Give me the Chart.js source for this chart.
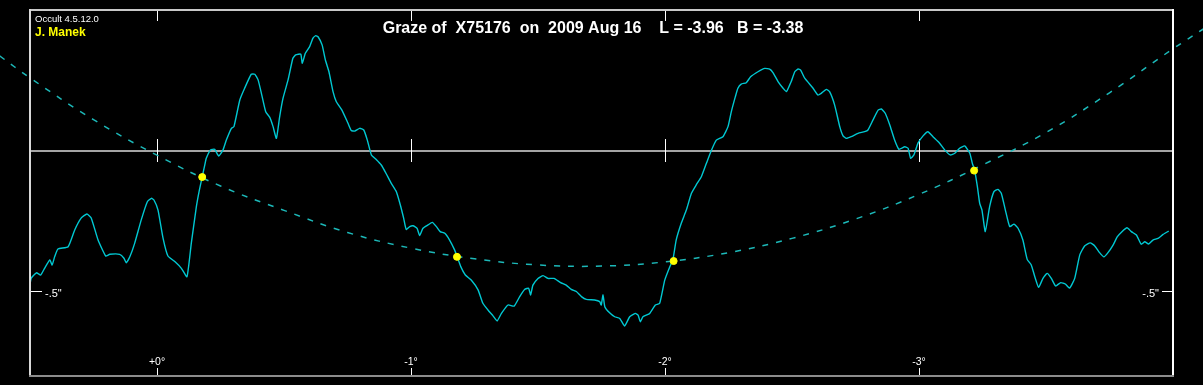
<!DOCTYPE html>
<html>
<head>
<meta charset="utf-8">
<script src="https://cdn.jsdelivr.net/npm/chart.js@4.4.1/dist/chart.umd.min.js"></script>
<style>
  html,body{margin:0;padding:0;background:#000;}
  #wrap{width:1203px;height:385px;position:relative;background:#000;}
</style>
</head>
<body>
<div id="wrap"><canvas id="c"></canvas></div>
<script>
// ---- data (longitude in degrees, profile height in arcsec) ----
const profileLon = [
 0.500,0.495,0.475,0.458,0.442,0.422,0.413,0.403,0.390,0.350,0.324,0.298,0.276,0.259,0.232,0.202,0.186,0.147,0.130,0.121,0.107,0.088,0.062,0.038,0.022,0.012,-0.004,-0.024,-0.043,-0.070,-0.096,-0.118,-0.135,-0.155,-0.167,-0.178,-0.189,-0.194,-0.211,-0.227,-0.243,-0.260,
 -0.273,-0.293,-0.303,-0.326,-0.345,-0.371,-0.385,-0.398,-0.411,-0.428,-0.444,-0.457,-0.470,-0.483,-0.496,-0.516,-0.535,-0.546,-0.566,-0.572,-0.584,-0.601,-0.614,-0.625,-0.634,-0.650,-0.663,-0.677,-0.693,-0.706,-0.728,-0.752,-0.765,-0.778,-0.798,-0.814,-0.828,-0.844,-0.863,-0.883,-0.903,-0.922,-0.942,-0.958,-0.971,-0.981,-0.995,
 -1.008,-1.024,-1.034,-1.047,-1.067,-1.084,-1.100,-1.115,-1.133,-1.152,-1.172,-1.182,-1.196,-1.214,-1.237,-1.264,-1.283,-1.303,-1.323,-1.339,-1.356,-1.382,-1.406,-1.428,-1.448,-1.463,-1.471,-1.480,-1.500,-1.520,-1.539,-1.563,-1.589,-1.611,-1.631,-1.651,-1.671,-1.690,-1.723,-1.743,
 -1.749,-1.756,-1.763,-1.782,-1.802,-1.822,-1.841,-1.861,-1.883,-1.894,-1.903,-1.913,-1.940,-1.962,-1.979,-1.999,-2.019,-2.031,-2.044,-2.064,-2.084,-2.104,-2.123,-2.143,-2.163,-2.182,-2.202,-2.228,-2.248,-2.261,-2.277,-2.287,-2.300,-2.320,-2.337,-2.366,-2.393,-2.412,-2.425,-2.445,-2.465,-2.478,-2.491,
 -2.497,-2.511,-2.524,-2.534,-2.550,-2.583,-2.602,-2.615,-2.635,-2.648,-2.668,-2.688,-2.701,-2.714,-2.733,-2.760,-2.786,-2.799,-2.819,-2.839,-2.852,-2.867,-2.885,-2.904,-2.921,-2.944,-2.957,-2.967,-2.980,-2.996,-3.016,-3.035,-3.055,-3.081,-3.101,-3.123,-3.141,-3.160,-3.180,-3.200,-3.210,-3.219,-3.230,-3.239,
 -3.248,-3.261,-3.278,-3.295,-3.311,-3.324,-3.340,-3.357,-3.374,-3.390,-3.409,-3.426,-3.442,-3.456,-3.471,-3.488,-3.505,-3.521,-3.538,-3.558,-3.576,-3.593,-3.613,-3.633,-3.652,-3.674,-3.692,-3.711,-3.728,-3.744,-3.764,-3.781,-3.799,-3.819,-3.836,-3.856,-3.875,-3.889,-3.904,-3.921,-3.941,-3.961,-3.983
];
const profileArcsec = [
 -0.475,-0.454,-0.435,-0.443,-0.418,-0.389,-0.407,-0.378,-0.350,-0.342,-0.282,-0.239,-0.225,-0.239,-0.318,-0.375,-0.369,-0.369,-0.383,-0.399,-0.378,-0.330,-0.246,-0.181,-0.169,-0.175,-0.211,-0.312,-0.375,-0.395,-0.419,-0.449,-0.330,-0.199,-0.139,-0.093,-0.046,-0.026,0.004,0.006,-0.018,0.004,
 0.039,0.081,0.087,0.182,0.224,0.274,0.274,0.254,0.206,0.140,0.120,0.087,0.045,0.123,0.188,0.254,0.331,0.343,0.346,0.313,0.349,0.373,0.403,0.412,0.408,0.379,0.325,0.283,0.212,0.176,0.146,0.099,0.073,0.071,0.081,0.075,0.039,-0.014,-0.030,-0.050,-0.082,-0.115,-0.145,-0.193,-0.240,-0.280,-0.270,
 -0.267,-0.276,-0.302,-0.276,-0.264,-0.255,-0.270,-0.288,-0.294,-0.318,-0.354,-0.378,-0.413,-0.443,-0.461,-0.496,-0.544,-0.568,-0.589,-0.607,-0.580,-0.550,-0.554,-0.520,-0.494,-0.490,-0.514,-0.479,-0.455,-0.445,-0.455,-0.455,-0.470,-0.479,-0.494,-0.502,-0.520,-0.530,-0.532,-0.538,
 -0.550,-0.514,-0.556,-0.578,-0.592,-0.598,-0.625,-0.592,-0.580,-0.586,-0.610,-0.592,-0.580,-0.550,-0.544,-0.461,-0.413,-0.389,-0.318,-0.258,-0.211,-0.151,-0.121,-0.092,-0.044,0.001,0.039,0.051,0.087,0.140,0.194,0.224,0.239,0.244,0.265,0.283,0.295,0.292,0.280,0.248,0.224,0.212,0.236,
 0.248,0.283,0.293,0.289,0.260,0.224,0.200,0.206,0.220,0.212,0.164,0.087,0.054,0.045,0.051,0.063,0.069,0.075,0.111,0.146,0.150,0.135,0.093,0.039,0.006,0.015,0.010,-0.026,-0.014,0.028,0.054,0.069,0.051,0.028,0.004,-0.014,-0.008,0.010,0.018,-0.008,-0.044,-0.068,-0.128,-0.187,
 -0.211,-0.288,-0.199,-0.145,-0.137,-0.151,-0.211,-0.270,-0.261,-0.276,-0.318,-0.387,-0.407,-0.449,-0.487,-0.455,-0.437,-0.455,-0.482,-0.470,-0.475,-0.490,-0.455,-0.371,-0.339,-0.328,-0.339,-0.363,-0.378,-0.363,-0.336,-0.306,-0.288,-0.274,-0.288,-0.300,-0.333,-0.324,-0.332,-0.318,-0.312,-0.298,-0.286
];
const limbLon    = [0.62, 0.5, 0.25, 0, -0.25, -0.5, -0.75, -1.0, -1.25, -1.5, -1.75, -2.0, -2.25, -2.5, -2.75, -3.0, -3.25, -3.5, -3.75, -4.0, -4.12];
const limbArcsec = [0.340, 0.261, 0.112, -0.015, -0.125, -0.212, -0.291, -0.347, -0.385, -0.407, -0.411, -0.396, -0.363, -0.312, -0.243, -0.155, -0.050, 0.066, 0.208, 0.365, 0.436];
const eventLon    = [-0.178, -1.181, -2.034, -3.217];
const eventArcsec = [-0.093, -0.378, -0.393, -0.070];
const xTickValues = [0, -1, -2, -3];
const xTickLabels = ['+0°', '-1°', '-2°', '-3°'];
const yTickValues = [-0.5];
const yTickLabels = ['-.5"'];
const titleText = 'Graze of  X75176  on  2009 Aug 16    L = -3.96   B = -3.38';
const versionText = 'Occult 4.5.12.0';
const observerText = 'J. Manek';

const zip = (a, b) => a.slice(0, Math.min(a.length, b.length)).map((v, i) => ({x: v, y: b[i]}));

function seg(ctx, x1, y1, x2, y2) { ctx.beginPath(); ctx.moveTo(x1, y1); ctx.lineTo(x2, y2); ctx.stroke(); }

const decor = {
  id: 'decor',
  beforeDraw(chart) {
    const {ctx, width, height} = chart;
    ctx.save(); ctx.fillStyle = '#000'; ctx.fillRect(0, 0, width, height); ctx.restore();
  },
  beforeDatasetsDraw(chart) {
    const {ctx, chartArea: a, scales: {x, y}} = chart;
    ctx.save();
    const y0 = Math.round(y.getPixelForValue(0));
    ctx.fillStyle = '#a4a4a4';
    ctx.fillRect(a.left, y0 - 1, a.right - a.left, 2);
    ctx.strokeStyle = '#ffffff'; ctx.lineWidth = 1;
    xTickValues.forEach(v => {
      const px = Math.round(x.getPixelForValue(v)) + 0.5;
      seg(ctx, px, a.top, px, a.top + 11);
      seg(ctx, px, y0 - 12, px, y0 + 11);
      seg(ctx, px, a.bottom - 8, px, a.bottom);
    });
    yTickValues.forEach(v => {
      const py = Math.round(y.getPixelForValue(v)) + 0.5;
      seg(ctx, a.left, py, a.left + 12, py);
      seg(ctx, a.right - 11, py, a.right, py);
    });
    ctx.restore();
  },
  afterDatasetsDraw(chart) {
    const {ctx, chartArea: a, scales: {x, y}} = chart;
    ctx.save();
    // frame
    ctx.fillStyle = '#c8c8c8'; ctx.fillRect(a.left, a.top - 1, a.right - a.left + 1, 2);
    ctx.fillStyle = '#d8d8d8'; ctx.fillRect(a.left - 1, a.top - 1, 2, a.bottom - a.top + 1);
    ctx.fillStyle = '#ffffff'; ctx.fillRect(a.right - 1, a.top - 1, 2, a.bottom - a.top + 1);
    ctx.fillStyle = '#8c8c8c'; ctx.fillRect(a.left - 1, a.bottom - 1, a.right - a.left + 2, 2);
    // texts
    ctx.fillStyle = '#ffffff';
    ctx.textBaseline = 'alphabetic';
    ctx.font = "10.5px 'Liberation Sans', Arial, sans-serif";
    ctx.textAlign = 'center';
    xTickValues.forEach((v, i) => {
      ctx.fillText(xTickLabels[i], x.getPixelForValue(v), a.bottom - 11);
    });
    ctx.font = "11px 'Liberation Sans', Arial, sans-serif";
    yTickValues.forEach((v, i) => {
      const py = y.getPixelForValue(v);
      ctx.textAlign = 'left';
      ctx.fillText(yTickLabels[i], a.left + 15, py + 6);
      ctx.textAlign = 'right';
      ctx.fillText(yTickLabels[i], a.right - 14, py + 6);
    });
    ctx.textAlign = 'left';
    ctx.font = "9.5px 'Liberation Sans', Arial, sans-serif";
    ctx.fillText(versionText, a.left + 5, a.top + 12);
    ctx.fillStyle = '#ffff00';
    ctx.font = "bold 12px 'Liberation Sans', Arial, sans-serif";
    ctx.fillText(observerText, a.left + 5, a.top + 26);
    ctx.fillStyle = '#ffffff';
    ctx.font = "bold 16px 'Liberation Sans', Arial, sans-serif";
    ctx.textAlign = 'center';
    ctx.fillText(titleText, 593, a.top + 23);
    ctx.restore();
  }
};

new Chart(document.getElementById('c'), {
  type: 'scatter',
  data: {
    datasets: [
      {
        label: 'events',
        data: zip(eventLon, eventArcsec),
        showLine: false,
        pointRadius: 3.5,
        pointHoverRadius: 3.5,
        backgroundColor: '#ffff00',
        borderColor: '#ffff00',
        borderWidth: 1
      },
      {
        label: 'limb',
        data: zip(limbLon, limbArcsec),
        showLine: true,
        pointRadius: 0,
        borderColor: '#1cb8b8',
        borderWidth: 1.5,
        borderDash: [6, 8],
        tension: 0.4,
        clip: false
      },
      {
        label: 'profile',
        data: zip(profileLon, profileArcsec),
        showLine: true,
        pointRadius: 0,
        borderColor: '#00c8d2',
        borderWidth: 1.4,
        tension: 0.15
      }
    ]
  },
  options: {
    responsive: true,
    maintainAspectRatio: false,
    devicePixelRatio: 1,
    animation: false,
    events: [],
    layout: {padding: {left: 30, right: 30, top: 10, bottom: 9}},
    plugins: {legend: {display: false}, tooltip: {enabled: false}, title: {display: false}},
    scales: {
      x: {type: 'linear', display: false, reverse: true, min: -4, max: 0.5},
      y: {type: 'linear', display: false, min: -0.8036, max: 0.5036}
    }
  },
  plugins: [decor]
});
</script>
</body>
</html>
